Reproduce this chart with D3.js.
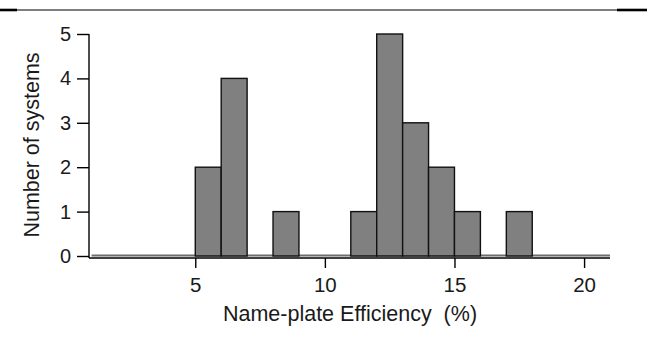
<!DOCTYPE html>
<html>
<head>
<meta charset="utf-8">
<script src="https://cdn.jsdelivr.net/npm/d3@7"></script>
<style>
  html, body { margin: 0; padding: 0; background: #fff; }
  svg { display: block; }
  text { font-family: "Liberation Sans", Arial, sans-serif; fill: #1a1a1a; }
</style>
</head>
<body>
<svg id="chart" width="647" height="337"></svg>
<script>
// Histogram data: bin start (%), bin width 1
const binStarts = [5, 6, 8, 11, 12, 13, 14, 15, 17];
const counts    = [2, 4, 1, 1, 5, 3, 2, 1, 1];
const histRange = [1, 21];
const xTicks = [5, 10, 15, 20];
const yTicks = [0, 1, 2, 3, 4, 5];
const xTitle = "Name-plate Efficiency\u00a0 (%)";
const yTitle = "Number of systems";

const svg = d3.select("#chart");
const x = d3.scaleLinear().domain([0.9, 21]).range([89, 610]);
const y = d3.scaleLinear().domain([0, 5]).range([256, 34]);

// top rule
svg.append("line").attr("x1", 0).attr("x2", 647).attr("y1", 10).attr("y2", 10)
  .attr("stroke", "#000").attr("stroke-width", 1.2);
svg.append("line").attr("x1", 0).attr("x2", 17).attr("y1", 10).attr("y2", 10)
  .attr("stroke", "#000").attr("stroke-width", 2.6);
svg.append("line").attr("x1", 617).attr("x2", 647).attr("y1", 10).attr("y2", 10)
  .attr("stroke", "#000").attr("stroke-width", 2.6);

// zero-height bins baseline
svg.append("line")
  .attr("x1", x(histRange[0])).attr("x2", x(histRange[1]))
  .attr("y1", y(0) - 0.5).attr("y2", y(0) - 0.5)
  .attr("stroke", "#6e6e6e").attr("stroke-width", 2);

// bars
svg.append("g").selectAll("rect")
  .data(binStarts.map((s, i) => ({ s, c: counts[i] })))
  .join("rect")
  .attr("x", d => x(d.s))
  .attr("width", d => x(d.s + 1) - x(d.s))
  .attr("y", d => y(d.c))
  .attr("height", d => y(0) - y(d.c))
  .attr("fill", "#808080")
  .attr("stroke", "#111")
  .attr("stroke-width", 1.4);

// x axis (offset slightly below zero)
const xAxis = d3.axisBottom(x).tickValues(xTicks).tickSize(10).tickPadding(9).tickFormat(d3.format("d"));
const gx = svg.append("g").attr("transform", "translate(0,258)").call(xAxis);
gx.select(".domain").attr("d", `M${x.range()[0]},0H${x.range()[1]}`).attr("stroke", "#000").attr("stroke-width", 1.4);
gx.selectAll(".tick line").attr("stroke", "#000").attr("stroke-width", 1.4);
gx.selectAll(".tick text").attr("font-size", 20.5).attr("font-family", "Liberation Sans, Arial, sans-serif").attr("fill", "#1a1a1a");

// y axis
const yAxis = d3.axisLeft(y).tickValues(yTicks).tickSize(12).tickPadding(6).tickFormat(d3.format("d"));
const gy = svg.append("g").attr("transform", "translate(89,0)").call(yAxis);
gy.select(".domain").attr("d", `M0,${y(5)}V258`).attr("stroke", "#000").attr("stroke-width", 1.4);
gy.selectAll(".tick line").attr("stroke", "#000").attr("stroke-width", 1.4);
gy.selectAll(".tick text").attr("font-size", 20).attr("font-family", "Liberation Sans, Arial, sans-serif").attr("fill", "#1a1a1a");

// titles
svg.append("text").attr("x", 350).attr("y", 321).attr("text-anchor", "middle")
  .attr("font-size", 21.5).text(xTitle);
svg.append("text").attr("transform", "translate(39,145) rotate(-90)")
  .attr("text-anchor", "middle").attr("font-size", 21.5).text(yTitle);
</script>
</body>
</html>
